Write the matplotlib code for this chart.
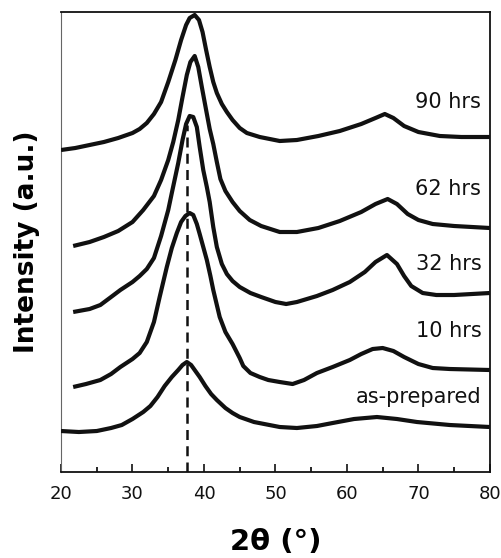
"""XRD patterns of the milled samples, stacked by milling time."""
import matplotlib.pyplot as plt

INK = "#111111"

# 2-theta (deg) and stacked intensity (a.u., offsets included) for each pattern
tt_90 = [20, 22, 24, 26, 28, 30, 31, 32, 33, 34, 35, 36, 36.8, 37.5, 38.0, 38.7,
         39.3, 39.8, 40.3, 40.8, 41.3, 41.8, 42.5, 43.2, 44, 45, 46, 47.8, 50.6,
         53, 56, 59, 62, 64, 65.3, 66.5, 68, 70, 73, 76, 80]
i_90 = [322, 324, 327, 330, 334, 339, 343, 349, 358, 370, 390, 412, 432, 447, 454, 457,
        452, 440, 422, 405, 390, 379, 368, 360, 352, 344, 339, 335, 331,
        332, 336, 341, 348, 354, 358, 354, 346, 340, 336, 335, 335]

tt_62 = [21.7, 24, 26, 28, 30, 31.5, 33, 34, 35, 35.7, 36.4, 37, 37.6, 38.1, 38.7,
         39.2, 39.7, 40.3, 40.8, 41.3, 41.8, 42.3, 43, 44, 45, 46.4, 48, 50.6, 53,
         56, 59, 62, 64, 65.7, 67, 68.5, 70, 72, 75, 80]
i_62 = [226, 230, 235, 241, 250, 262, 276, 292, 312, 330, 352, 375, 397, 410, 416,
        405, 385, 362, 343, 328, 310, 293, 281, 270, 261, 252, 246, 240, 240,
        244, 251, 260, 268, 273, 268, 258, 252, 248, 246, 244]

tt_32 = [21.7, 24, 25.5, 27, 28.3, 30, 31, 32, 33, 34, 35, 35.5, 36.4, 37, 37.5,
         38, 38.5, 39, 39.4, 39.9, 40.4, 40.8, 41.3, 41.8, 42.5, 43.2, 44, 45, 46.5,
         48, 50, 51.5, 53, 55.8, 58, 60.4, 62.5, 64, 65.6, 67, 68, 69, 70.6, 72.5,
         75, 80]
i_32 = [160, 163, 167, 175, 182, 190, 196, 203, 214, 236, 262, 279, 309, 332, 348,
        356, 355, 345, 325, 302, 285, 270, 245, 225, 208, 198, 191, 185, 179,
        175, 170, 168, 170, 176, 182, 190, 200, 210, 217, 208, 196, 186, 179, 177,
        177, 179]

tt_10 = [21.7, 23.5, 25.5, 27, 28.3, 30, 31, 32, 33, 33.8, 34.8, 35.5, 36.2, 36.8,
         37.4, 38, 38.5, 39, 39.4, 39.9, 40.4, 40.9, 41.3, 41.8, 42.2, 43, 44, 45,
         45.5, 46.5, 47.8, 49, 50.6, 52.4, 54, 55.8, 58, 60.4, 62, 63.6, 65, 66.5,
         68, 70, 72, 74.4, 80]
i_10 = [85, 88, 92, 98, 105, 113, 119, 130, 150, 175, 205, 224, 239, 250,
        256, 259, 257, 248, 238, 225, 212, 196, 182, 167, 155, 140, 128, 114,
        106, 99, 95, 92, 90, 88, 92, 99, 105, 112, 118, 123, 124, 121,
        115, 108, 104, 103, 102]

tt_0 = [20, 22.5, 25, 27, 28.5, 30, 31.5, 32.5, 33.5, 34.5, 35.5, 36.4, 37, 37.6,
        38.2, 38.7, 39.4, 40.2, 41, 41.8, 43, 44, 45, 47, 50.6, 53, 55.8, 58, 61,
        64.2, 67, 69.8, 74.4, 80]
i_0 = [41, 40, 41, 44, 47, 53, 60, 66, 75, 86, 95, 102, 107, 110,
       107, 102, 95, 86, 78, 72, 64, 59, 55, 50, 45, 44, 46, 49, 53,
       55, 53, 50, 47, 45]

labels = ["90 hrs", "62 hrs", "32 hrs", "10 hrs", "as-prepared"]
label_y = [364, 277, 202, 135, 69]
ref_peak = 37.6      # position of the dashed reference line
ref_top = 347

fig = plt.figure(figsize=(5.01, 5.58), dpi=100, facecolor="white")
ax = fig.add_axes([0.1218, 0.1541, 0.856, 0.8244])

for tt, inten in [(tt_90, i_90), (tt_62, i_62), (tt_32, i_32), (tt_10, i_10), (tt_0, i_0)]:
    ax.plot(tt, inten, color=INK, linewidth=3.0, solid_joinstyle="round",
            solid_capstyle="butt", zorder=3)

ax.plot([ref_peak, ref_peak], [0, ref_top], color=INK, linewidth=1.8,
        linestyle=(0, (4, 2.5)), zorder=2)

for text, y in zip(labels, label_y):
    ax.text(78.8, y, text, ha="right", va="baseline", fontsize=15,
            family="DejaVu Sans", color=INK)

ax.set_xlim(20, 80)
ax.set_ylim(0, 460)
ax.set_xticks(range(20, 81, 10))
ax.set_xticks(range(25, 80, 10), minor=True)
ax.set_yticks([])
ax.tick_params(axis="x", which="major", direction="in", length=6, width=1.2,
               pad=9, labelsize=13, colors=INK)
ax.tick_params(axis="x", which="minor", direction="in", length=3.5, width=1.2)
for side, spine in ax.spines.items():
    spine.set_linewidth(1.3)
    spine.set_color(INK)
ax.spines["left"].set_linewidth(0.8)
ax.spines["left"].set_color("#666666")

ax.set_xlabel("2θ (°)", fontsize=21, fontweight="bold", family="DejaVu Sans")
ax.xaxis.set_label_coords(0.5, -0.122)
ax.set_ylabel("Intensity (a.u.)", fontsize=19, fontweight="bold", family="DejaVu Sans")
ax.yaxis.set_label_coords(-0.05, 0.5)

fig.savefig("out.png", dpi=100, facecolor="white")
plt.close(fig)
